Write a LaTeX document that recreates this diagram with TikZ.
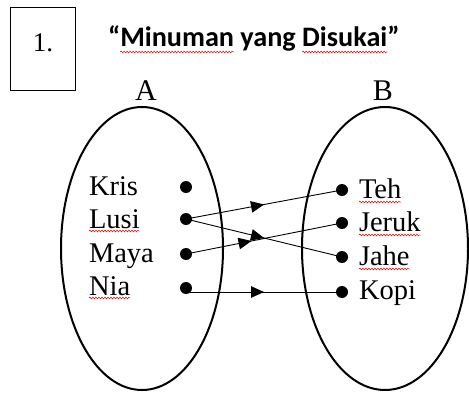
\documentclass[tikz,border=0pt]{standalone}
\usepackage{fontspec}
\setmainfont{Liberation Serif}
\newfontfamily\titlefont{Carlito}
\usetikzlibrary{arrows.meta,decorations.markings,decorations.pathmorphing}
\begin{document}
\begin{tikzpicture}[x=1pt,y=1pt,
  every node/.style={inner sep=0pt,outer sep=0pt},
  lbl/.style={font=\fontsize{28.5}{33}\selectfont,anchor=base west},
  ttl/.style={font=\titlefont\bfseries\fontsize{28.2}{32}\selectfont,anchor=base west},
  dotnode/.style={circle,fill=black,minimum size=12pt},
  setring/.style={line width=2pt},
  maparrow/.style={line width=0.9pt,postaction={decorate},
    decoration={markings,mark=at position #1 with {\arrow{Triangle[length=13pt,width=11.5pt]}}}},
  maparrow/.default=0.5,
  spell/.style={draw=red!85!black,line width=0.5pt,decorate,
    decoration={snake,amplitude=0.9pt,segment length=3pt}}]
\useasboundingbox (0,0) rectangle (469,392);
% numbered box
\node[draw,line width=1pt,minimum width=65pt,minimum height=82pt] (box) at (42.5,343) {};
\node[font=\fontsize{27}{31}\selectfont] (num) at (43,349) {1.};
% title, word by word
\node[ttl] (q1) at (108,345) {“};
\node[ttl] (w1) at (q1.base east) {Minuman};
\node[ttl] (w2) at (w1.base east) {\ yang\ \kern0pt};
\node[ttl] (w3) at (w2.base east) {Disukai};
\node[ttl] (q2) at (w3.base east) {”};
% set labels
\node[anchor=base,font=\fontsize{30}{34}\selectfont] (A) at (146,292) {A};
\node[anchor=base,font=\fontsize{30}{34}\selectfont] (B) at (383,292) {B};
% ellipses
\draw[setring] (142,143.5) ellipse [x radius=81, y radius=141.5];
\draw[setring] (385,143.5) ellipse [x radius=83, y radius=141.5];
% left elements
\node[lbl] (kris) at (89,197) {Kris};
\node[lbl] (lusi) at (89,164) {Lusi};
\node[lbl] (maya) at (89,130) {Maya};
\node[lbl] (nia)  at (89,97)  {Nia};
\node[dotnode] (d1) at (186,205) {};
\node[dotnode] (d2) at (186,173) {};
\node[dotnode] (d3) at (186,138) {};
\node[dotnode] (d4) at (186,104) {};
% right elements
\node[lbl] (teh)   at (359,194) {Teh};
\node[lbl] (jeruk) at (359,161) {Jeruk};
\node[lbl] (jahe)  at (359,127) {Jahe};
\node[lbl] (kopi)  at (359,93)  {Kopi};
\node[dotnode] (e1) at (342,202) {};
\node[dotnode] (e2) at (342,169) {};
\node[dotnode] (e3) at (342,135) {};
\node[dotnode] (e4) at (342,100) {};
% mappings
\draw[maparrow] (d2.center) -- (e1.center);
\draw[maparrow] (d2.center) -- (e3.center);
\draw[maparrow=0.42] (d3.center) -- (e2.center);
\draw[maparrow] (d4.center |- e4.center) -- (e4.center);
% spell-check underlines
\draw[spell] ([yshift=-5pt]w1.base west) -- ([yshift=-5pt]w1.base east);
\draw[spell] ([yshift=-5pt]w3.base west) -- ([yshift=-5pt]w3.base east);
\draw[spell] ([yshift=-3pt]lusi.base west) -- ([yshift=-3pt]lusi.base east);
\draw[spell] ([yshift=-3pt]nia.base west) -- ([yshift=-3pt]nia.base east);
\draw[spell] ([yshift=-4pt]teh.base west) -- ([yshift=-4pt]teh.base east);
\draw[spell] ([yshift=-4pt]jeruk.base west) -- ([yshift=-4pt]jeruk.base east);
\draw[spell] ([yshift=-4pt]jahe.base west) -- ([yshift=-4pt]jahe.base east);
\end{tikzpicture}
\end{document}
